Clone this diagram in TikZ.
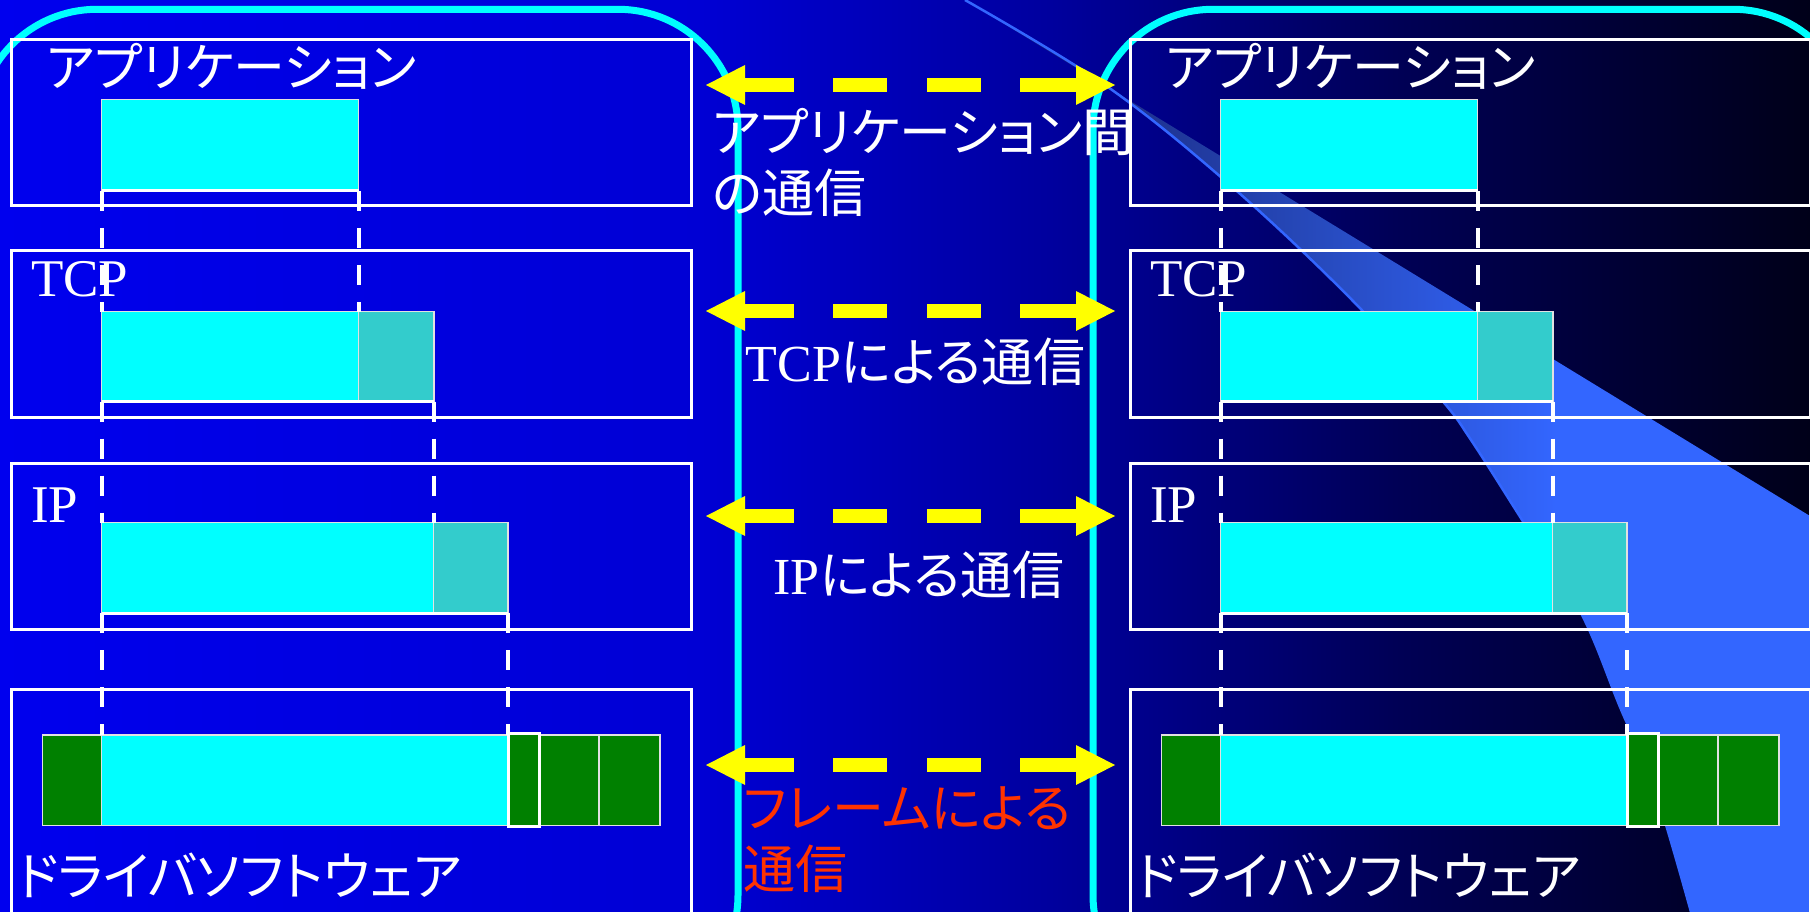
\documentclass[tikz,border=0pt]{standalone}
\usepackage{fontspec}
\setmainfont{Liberation Serif}
\newfontfamily\jp[RawFeature=+palt]{Noto Sans CJK JP}
\definecolor{bgA}{RGB}{0,0,238}
\definecolor{bgB}{RGB}{0,0,212}
\definecolor{bgC}{RGB}{0,0,158}
\definecolor{bgD}{RGB}{0,0,85}
\definecolor{bgE}{RGB}{0,0,25}
\definecolor{swA}{RGB}{25,40,125}
\definecolor{swB}{RGB}{28,45,135}
\definecolor{swC}{RGB}{38,72,185}
\definecolor{swD}{RGB}{51,102,255}
\definecolor{cyanC}{RGB}{0,255,255}
\definecolor{tealC}{RGB}{51,204,204}
\definecolor{greenC}{RGB}{0,128,0}
\definecolor{frameRed}{RGB}{255,51,0}
\definecolor{edgeC}{RGB}{225,225,225}
\definecolor{arrowY}{RGB}{255,255,0}
\pgfdeclarehorizontalshading{bgshade}{100bp}{color(0bp)=(bgA); color(25bp)=(bgA); color(44.34bp)=(bgB); color(54bp)=(bgC); color(63.67bp)=(bgD); color(75bp)=(bgE); color(100bp)=(bgE)}
\pgfdeclarehorizontalshading{swshade}{100bp}{color(0bp)=(swA); color(25bp)=(swA); color(33bp)=(swB); color(45bp)=(swC); color(60bp)=(swD); color(100bp)=(swD)}
\begin{document}
\begin{tikzpicture}[x=1pt,y=-1pt,
  lbl/.style={inner sep=0pt, text=white, font=\fontsize{52pt}{61pt}\selectfont},
  layerbox/.style={draw=white, line width=3pt},
  cyanframe/.style={draw=cyanC, line width=7pt, rounded corners=120pt},
  datab/.style={draw=edgeC, line width=1.5pt},
  botline/.style={draw=white, line width=3pt},
  vdash/.style={draw=white, line width=4pt, dash pattern=on 20pt off 17pt},
  ydash/.style={draw=arrowY, line width=14.4pt, dash pattern=on 49pt off 39pt on 54pt off 40pt on 54pt off 39pt on 56pt off 60pt, shorten <=39pt, shorten >=39pt},
  swline/.style={draw=swD, line width=2.5pt}
]
\useasboundingbox (0,0) rectangle (1810,912);
\shade[shading=bgshade] (0,0) rectangle (1810,912);
\begin{scope}
\clip (0,0) rectangle (1810,912);
% swoosh
\shade[shading=swshade] (965,0) -- (1810,516) -- (1810,930) -- (1694,930) -- plot[smooth, tension=0.6] coordinates {(1691,912) (1655,790) (1620,707) (1581,613) (1524,523) (1471,440) (1440,398) (1352,300) (1230,185) (1105,85) (965,0)} -- cycle;
\draw[swline] plot[smooth, tension=0.6] coordinates {(1691,912) (1655,790) (1620,707) (1581,613) (1524,523) (1471,440) (1440,398) (1352,300) (1230,185) (1105,85) (965,0)};
% cyan frames
\draw[cyanframe] (-23,9.3) rectangle (738,1015);
\draw[cyanframe] (1093,9.3) rectangle (1853,1015);
% two protocol stacks
\foreach \dx/\s in {0/L,1119/R}{
\begin{scope}[xshift=\dx pt]
  \draw[layerbox] (11,40) rectangle (691,206);
  \draw[layerbox] (11,251) rectangle (691,417);
  \draw[layerbox] (11,463) rectangle (691,629);
  \draw[layerbox] (11,689) rectangle (691,1000);
  % application data
  \filldraw[datab, fill=cyanC] (101.5,99.3) rectangle (358.6,191);
  \draw[botline] (101.5,191) -- (358.6,191);
  % tcp segment
  \filldraw[datab, fill=cyanC] (101.5,311.7) rectangle (358.6,401.7);
  \filldraw[datab, fill=tealC] (358.6,311.7) rectangle (434,401.7);
  \draw[botline] (101.5,401.7) -- (434,401.7);
  % ip packet
  \filldraw[datab, fill=cyanC] (101.5,522.7) rectangle (433.5,613.3);
  \filldraw[datab, fill=tealC] (433.5,522.7) rectangle (508,613.3);
  \draw[botline] (101.5,613.3) -- (508,613.3);
  % frame
  \filldraw[datab, fill=greenC] (42.5,735) rectangle (101.5,825.7);
  \filldraw[datab, fill=cyanC] (101.5,735) rectangle (508,825.7);
  \filldraw[datab, fill=greenC] (539,735) rectangle (599,825.7);
  \filldraw[datab, fill=greenC] (599,735) rectangle (660,825.7);
  \filldraw[draw=white, line width=3pt, fill=greenC] (508,733.3) rectangle (539,826.7);
  % dashed guides
  \draw[vdash] (101.5,191) -- (101.5,311.7);
  \draw[vdash] (358.6,191) -- (358.6,311.7);
  \draw[vdash] (101.5,401.7) -- (101.5,522.7);
  \draw[vdash] (434,401.7) -- (434,522.7);
  \draw[vdash] (101.5,613.3) -- (101.5,735);
  \draw[vdash] (508,613.3) -- (508,735);
  % labels
  \node[lbl, anchor=west] (app\s) at (46,66.5) {\jp アプリケーション};
  \node[lbl, anchor=west, font=\fontsize{53pt}{60pt}\selectfont] (tcp\s) at (31,279.5) {TCP};
  \node[lbl, anchor=west, font=\fontsize{53pt}{60pt}\selectfont] (ip\s) at (31,505.5) {IP};
  \node[lbl, anchor=west] (drv\s) at (17,875.5) {\jp ドライバソフトウェア};
\end{scope}
}
% middle labels
\node[lbl, align=left, anchor=north west] (midApp) at (712,108) {\jp アプリケーション間\\\jp の通信};
\node[lbl] (midTcp) at (915.5,361.5) {TCP{\jp による通信}};
\node[lbl] (midIp) at (919,575) {IP{\jp による通信}};
\node[lbl, text=frameRed, align=left, anchor=north west] (midFrame) at (743,786) {\jp フレームによる\\\jp 通信};
% double arrows
\foreach \y [count=\i] in {85,311,516,765}{
  \coordinate (al\i) at (706,\y);
  \coordinate (ar\i) at (1115,\y);
  \draw[ydash] (al\i) -- (ar\i);
  \fill[arrowY] (al\i) -- ++(39,-20) -- ++(0,40) -- cycle;
  \fill[arrowY] (ar\i) -- ++(-39,-20) -- ++(0,40) -- cycle;
}
\end{scope}
\end{tikzpicture}
\end{document}
